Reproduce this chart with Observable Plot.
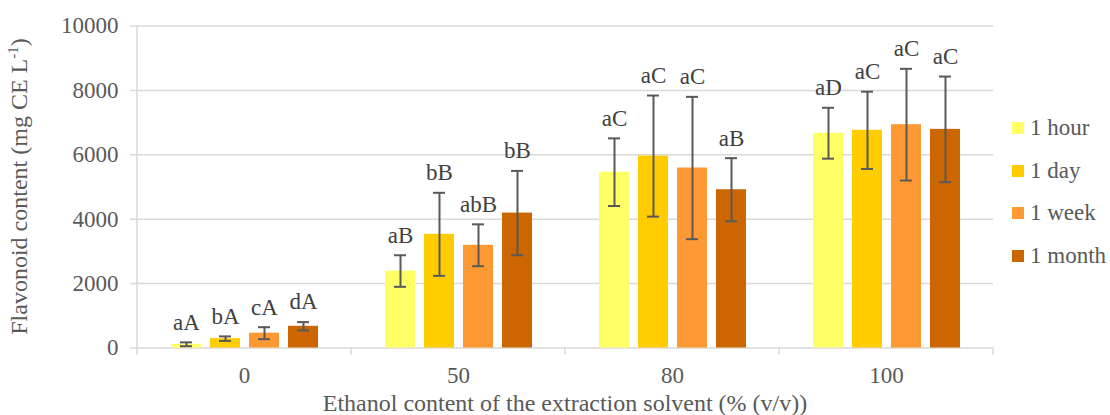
<!DOCTYPE html>
<html>
<head>
<meta charset="utf-8">
<script src="https://cdn.jsdelivr.net/npm/d3@7"></script>
<script src="https://cdn.jsdelivr.net/npm/@observablehq/plot@0.6"></script>
<style>
  body { margin: 0; background: #fff; }
  #chart { position: relative; width: 1110px; height: 415px; font-family: "Liberation Serif", "Times New Roman", serif; }
  #legend { position: absolute; left: 1012px; top: 106.7px; }
  #legend .row { display: flex; align-items: center; height: 42.67px; font-size: 23px; color: #595959; white-space: nowrap; }
  #legend .sw { width: 12px; height: 12px; margin-right: 6px; flex: none; }
</style>
</head>
<body>
<div id="chart"><div id="legend"></div></div>
<script>
// Ethanol content of the extraction solvent (% v/v) and extraction time
const ethanol = ["0", "50", "80", "100"];
const periods = ["1 hour", "1 day", "1 week", "1 month"];
const colors = ["#FFFF66", "#FFCC00", "#FF9933", "#CC6600"];

// Mean flavonoid content (mg CE L-1), one array per extraction time
const mean1h = [115, 2390, 5460, 6670];
const mean1d = [290, 3530, 5960, 6760];
const mean1w = [460, 3190, 5590, 6935];
const mean1m = [674, 4190, 4915, 6790];

// Standard deviations
const sd1h = [60, 490, 1050, 790];
const sd1d = [70, 1290, 1880, 1200];
const sd1w = [186, 650, 2210, 1735];
const sd1m = [130, 1310, 980, 1640];

// Significance letters
const sig1h = ["aA", "aB", "aC", "aD"];
const sig1d = ["bA", "bB", "aC", "aC"];
const sig1w = ["cA", "abB", "aC", "aC"];
const sig1m = ["dA", "bB", "aB", "aC"];

const yTicks = [0, 2000, 4000, 6000, 8000, 10000];

const means = [mean1h, mean1d, mean1w, mean1m];
const sds = [sd1h, sd1d, sd1w, sd1m];
const sigs = [sig1h, sig1d, sig1w, sig1m];

const rows = ethanol.flatMap((e, i) => periods.map((p, j) => ({
  ethanol: e, period: p, mean: means[j][i], sd: sds[j][i], sig: sigs[j][i]
})));

const lo = d => d.mean - d.sd;
const hi = d => d.mean + d.sd;
const errColor = "#595959";
const gridColor = "#d9d9d9";

const plot = Plot.plot({
  width: 1110,
  height: 415,
  marginLeft: 137,
  marginRight: 117,
  marginTop: 25.5,
  marginBottom: 67.5,
  style: { fontFamily: "'Liberation Serif', 'Times New Roman', serif", fontSize: "23px", color: "#595959", background: "white", overflow: "visible" },
  fx: { domain: ethanol, paddingInner: 0, paddingOuter: 0 },
  x: { domain: periods, paddingInner: 9 / 39, paddingOuter: 0.8587, axis: null },
  y: { domain: [0, 10000] },
  color: { domain: periods, range: colors },
  marks: [
    Plot.gridY(yTicks, { stroke: gridColor, strokeOpacity: 1, strokeWidth: 1.5 }),
    Plot.axisY(yTicks, {
      tickSize: 7, tickPadding: 12, stroke: gridColor, strokeWidth: 1.5,
      tickFormat: d => String(d),
      label: null
    }),
    Plot.axisFx({ anchor: "bottom", tickSize: 0, tickPadding: 19, label: null }),
    Plot.barY(rows, { fx: "ethanol", x: "period", y: "mean", fill: "period" }),
    Plot.ruleX(rows, { fx: "ethanol", x: "period", y1: lo, y2: hi, stroke: errColor, strokeWidth: 2 }),
    Plot.tickY(rows, { fx: "ethanol", x: "period", y: lo, stroke: errColor, strokeWidth: 2, inset: 9 }),
    Plot.tickY(rows, { fx: "ethanol", x: "period", y: hi, stroke: errColor, strokeWidth: 2, inset: 9 }),
    Plot.text(rows, { fx: "ethanol", x: "period", y: hi, text: "sig", dy: -20, fill: "#404040", fontSize: 23 })
  ]
});

// Baseline boundary ticks and the vertical value axis line, from the plot's scales
const fxScale = plot.scale("fx");
const band = d3.scaleBand(fxScale.domain, fxScale.range)
  .paddingInner(fxScale.paddingInner ?? 0)
  .paddingOuter(fxScale.paddingOuter ?? 0);
const yScale = plot.scale("y");
const y0 = yScale.apply(0);
const yTop = yScale.apply(10000);
const edges = ethanol.map(d => band(d)).concat([band(ethanol[ethanol.length - 1]) + band.bandwidth()]);
const svg = d3.select(plot);
const deco = svg.append("g").attr("stroke", gridColor).attr("stroke-width", 1.5);
deco.selectAll("line.edge")
  .data(edges)
  .join("line")
  .attr("class", "edge")
  .attr("x1", d => d).attr("x2", d => d)
  .attr("y1", y0).attr("y2", y0 + 7);
deco.append("line")
  .attr("x1", edges[0]).attr("x2", edges[0])
  .attr("y1", yTop).attr("y2", y0);

// Axis titles
const xMid = (edges[0] + edges[edges.length - 1]) / 2;
svg.append("text")
  .attr("x", xMid).attr("y", 411)
  .attr("text-anchor", "middle")
  .attr("fill", "#595959")
  .attr("font-size", 24)
  .text("Ethanol content of the extraction solvent (% (v/v))");
const yt = svg.append("text")
  .attr("transform", `translate(27,${(yTop + y0) / 2}) rotate(-90)`)
  .attr("text-anchor", "middle")
  .attr("fill", "#595959")
  .attr("font-size", 24);
yt.append("tspan").text("Flavonoid content (mg CE L");
yt.append("tspan").attr("font-size", 15).attr("dy", -9).text("-1");
yt.append("tspan").attr("dy", 9).text(")");

document.getElementById("chart").prepend(plot);

// Legend
const legend = d3.select("#legend");
periods.forEach((p, i) => {
  const row = legend.append("div").attr("class", "row");
  row.append("div").attr("class", "sw").style("background", colors[i]);
  row.append("span").text(p);
});
</script>
</body>
</html>
